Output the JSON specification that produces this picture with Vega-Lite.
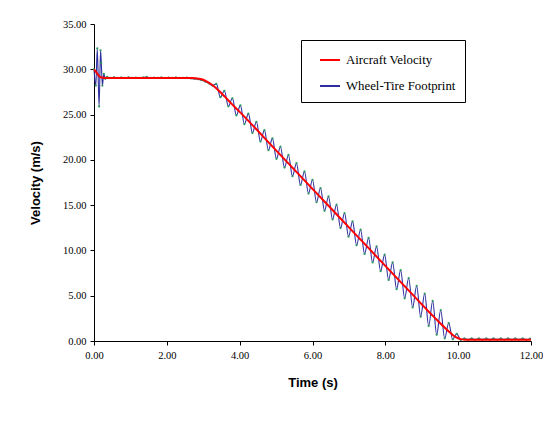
{
  "$schema": "https://vega.github.io/schema/vega-lite/v6.json",
  "width": 437,
  "height": 317,
  "autosize": {"type": "none"},
  "padding": {"left": 94, "top": 24, "right": 12, "bottom": 80},
  "background": "white",
  "config": {"view": {"stroke": null}},
  "datasets": {
    "aircraft": [
      {"t": 0.0, "v": 30.0}, {"t": 0.05, "v": 29.75}, {"t": 0.1, "v": 29.45}, {"t": 0.15, "v": 29.2},
      {"t": 0.2, "v": 29.1}, {"t": 0.3, "v": 29.05}, {"t": 1.0, "v": 29.05}, {"t": 2.0, "v": 29.05},
      {"t": 2.7, "v": 29.05}, {"t": 2.8, "v": 29.0}, {"t": 2.9, "v": 28.95}, {"t": 3.0, "v": 28.85},
      {"t": 3.1, "v": 28.65}, {"t": 3.2, "v": 28.4}, {"t": 3.3, "v": 28.1}, {"t": 3.4, "v": 27.75},
      {"t": 3.5, "v": 27.35}, {"t": 3.6, "v": 26.95}, {"t": 3.7, "v": 26.52}, {"t": 3.8, "v": 26.1},
      {"t": 3.9, "v": 25.7}, {"t": 4.0, "v": 25.3}, {"t": 5.0, "v": 21.05}, {"t": 6.0, "v": 16.8},
      {"t": 7.0, "v": 12.55}, {"t": 8.0, "v": 8.3}, {"t": 9.0, "v": 4.05}, {"t": 9.2, "v": 3.2},
      {"t": 9.4, "v": 2.4}, {"t": 9.6, "v": 1.6}, {"t": 9.8, "v": 0.85}, {"t": 9.9, "v": 0.52},
      {"t": 10.0, "v": 0.3}, {"t": 10.1, "v": 0.18}, {"t": 10.2, "v": 0.15}, {"t": 12.0, "v": 0.15}
    ],
    "footprint": [
      {"t": 0.0, "v": 30.0}, {"t": 0.05, "v": 28.2}, {"t": 0.09, "v": 32.3}, {"t": 0.14, "v": 25.9},
      {"t": 0.18, "v": 32.1}, {"t": 0.2, "v": 30.7}, {"t": 0.23, "v": 28.2}, {"t": 0.27, "v": 29.5},
      {"t": 0.31, "v": 28.95}, {"t": 0.36, "v": 29.15}, {"t": 0.45, "v": 29.05}, {"t": 0.55, "v": 29.12},
      {"t": 0.65, "v": 29.05}, {"t": 0.75, "v": 29.1}, {"t": 0.85, "v": 29.05}, {"t": 0.95, "v": 29.12},
      {"t": 1.05, "v": 29.05}, {"t": 1.15, "v": 29.08}, {"t": 1.25, "v": 29.05}, {"t": 1.35, "v": 29.1},
      {"t": 1.45, "v": 29.15}, {"t": 1.55, "v": 29.05}, {"t": 1.65, "v": 29.08}, {"t": 1.75, "v": 29.05},
      {"t": 1.85, "v": 29.1}, {"t": 1.95, "v": 29.05}, {"t": 2.05, "v": 29.08}, {"t": 2.15, "v": 29.05},
      {"t": 2.25, "v": 29.1}, {"t": 2.35, "v": 29.05}, {"t": 2.45, "v": 29.05}, {"t": 2.55, "v": 29.08},
      {"t": 2.65, "v": 29.0}, {"t": 2.75, "v": 28.95}, {"t": 2.85, "v": 28.9}, {"t": 2.95, "v": 28.8},
      {"t": 3.05, "v": 28.65}, {"t": 3.15, "v": 28.45}, {"t": 3.25, "v": 28.2},
      {"t": 3.36, "v": 28.39}, {"t": 3.47, "v": 26.92}, {"t": 3.58, "v": 27.63}, {"t": 3.69, "v": 25.91},
      {"t": 3.8, "v": 26.8}, {"t": 3.91, "v": 24.91}, {"t": 4.02, "v": 26.02}, {"t": 4.13, "v": 23.94},
      {"t": 4.24, "v": 25.1}, {"t": 4.35, "v": 22.97}, {"t": 4.46, "v": 24.2}, {"t": 4.57, "v": 22.02},
      {"t": 4.68, "v": 23.28}, {"t": 4.79, "v": 21.06}, {"t": 4.9, "v": 22.37}, {"t": 5.01, "v": 20.11},
      {"t": 5.12, "v": 21.45}, {"t": 5.23, "v": 19.15}, {"t": 5.34, "v": 20.54}, {"t": 5.45, "v": 18.19},
      {"t": 5.56, "v": 19.63}, {"t": 5.67, "v": 17.23}, {"t": 5.78, "v": 18.72}, {"t": 5.89, "v": 16.28},
      {"t": 6.0, "v": 17.8}, {"t": 6.11, "v": 15.32}, {"t": 6.22, "v": 16.89}, {"t": 6.33, "v": 14.38},
      {"t": 6.44, "v": 15.96}, {"t": 6.55, "v": 13.42}, {"t": 6.66, "v": 15.05}, {"t": 6.77, "v": 12.47},
      {"t": 6.88, "v": 14.13}, {"t": 6.99, "v": 11.52}, {"t": 7.1, "v": 13.21}, {"t": 7.21, "v": 10.57},
      {"t": 7.32, "v": 12.29}, {"t": 7.43, "v": 9.61}, {"t": 7.54, "v": 11.38}, {"t": 7.65, "v": 8.67},
      {"t": 7.76, "v": 10.45}, {"t": 7.87, "v": 7.71}, {"t": 7.98, "v": 9.54}, {"t": 8.09, "v": 6.74},
      {"t": 8.2, "v": 8.67}, {"t": 8.31, "v": 5.72}, {"t": 8.42, "v": 7.82}, {"t": 8.53, "v": 4.71},
      {"t": 8.64, "v": 6.95}, {"t": 8.75, "v": 3.7}, {"t": 8.86, "v": 6.1}, {"t": 8.97, "v": 2.69},
      {"t": 9.08, "v": 5.24}, {"t": 9.19, "v": 1.66}, {"t": 9.3, "v": 4.42}, {"t": 9.41, "v": 0.7},
      {"t": 9.52, "v": 3.42}, {"t": 9.63, "v": 0.29}, {"t": 9.74, "v": 1.98}, {"t": 9.85, "v": 0.18},
      {"t": 9.96, "v": 0.8}, {"t": 10.07, "v": 0.12}, {"t": 10.17, "v": 0.28}, {"t": 10.27, "v": 0.15},
      {"t": 10.37, "v": 0.28}, {"t": 10.47, "v": 0.15}, {"t": 10.57, "v": 0.28}, {"t": 10.67, "v": 0.15},
      {"t": 10.77, "v": 0.28}, {"t": 10.87, "v": 0.15}, {"t": 10.97, "v": 0.28}, {"t": 11.07, "v": 0.15},
      {"t": 11.17, "v": 0.28}, {"t": 11.27, "v": 0.15}, {"t": 11.37, "v": 0.28}, {"t": 11.47, "v": 0.15},
      {"t": 11.57, "v": 0.28}, {"t": 11.67, "v": 0.15}, {"t": 11.77, "v": 0.28}, {"t": 11.87, "v": 0.15},
      {"t": 11.97, "v": 0.25}
    ]
  },
  "encoding": {
    "x": {
      "field": "t", "type": "quantitative",
      "scale": {"domain": [0, 12], "nice": false},
      "axis": {
        "values": [0, 2, 4, 6, 8, 10, 12], "format": ".2f", "title": "Time (s)", "grid": false,
        "domainColor": "black", "tickColor": "black", "tickSize": 4, "labelFlush": false,
        "labelFont": "Liberation Serif", "labelFontSize": 10.5, "labelColor": "black", "labelPadding": 5,
        "titleFont": "Liberation Sans", "titleFontSize": 13, "titleFontWeight": "bold", "titleColor": "black", "titlePadding": 16
      }
    },
    "y": {
      "field": "v", "type": "quantitative",
      "scale": {"domain": [0, 35], "nice": false},
      "axis": {
        "values": [0, 5, 10, 15, 20, 25, 30, 35], "format": ".2f", "title": "Velocity (m/s)", "grid": false,
        "domainColor": "black", "tickColor": "black", "tickSize": 4,
        "labelFont": "Liberation Serif", "labelFontSize": 10.5, "labelColor": "black", "labelPadding": 4,
        "titleFont": "Liberation Sans", "titleFontSize": 13, "titleFontWeight": "bold", "titleColor": "black", "titlePadding": 20
      }
    }
  },
  "layer": [
    {
      "data": {"name": "footprint"},
      "mark": {"type": "line", "interpolate": "monotone", "strokeWidth": 1.1},
      "encoding": {
        "color": {
          "datum": "Wheel-Tire Footprint",
          "scale": {"domain": ["Aircraft Velocity", "Wheel-Tire Footprint"], "range": ["#ff0000", "#2e2e9e"]},
          "legend": {
            "title": null, "orient": "none", "legendX": 207, "legendY": 16,
            "symbolType": "stroke", "symbolSize": 400, "symbolStrokeWidth": 2,
            "labelFont": "Liberation Serif", "labelFontSize": 12.8, "labelColor": "black",
            "strokeColor": "black", "fillColor": "white", "padding": 9, "symbolOffset": 9,
            "labelOffset": 5, "rowPadding": 8
          }
        }
      }
    },
    {
      "data": {"name": "footprint"},
      "mark": {"type": "point", "filled": true, "size": 5, "color": "#2f9a5f", "opacity": 1}
    },
    {
      "data": {"name": "aircraft"},
      "mark": {"type": "line", "interpolate": "monotone", "strokeWidth": 2},
      "encoding": {"color": {"datum": "Aircraft Velocity"}}
    }
  ]
}
